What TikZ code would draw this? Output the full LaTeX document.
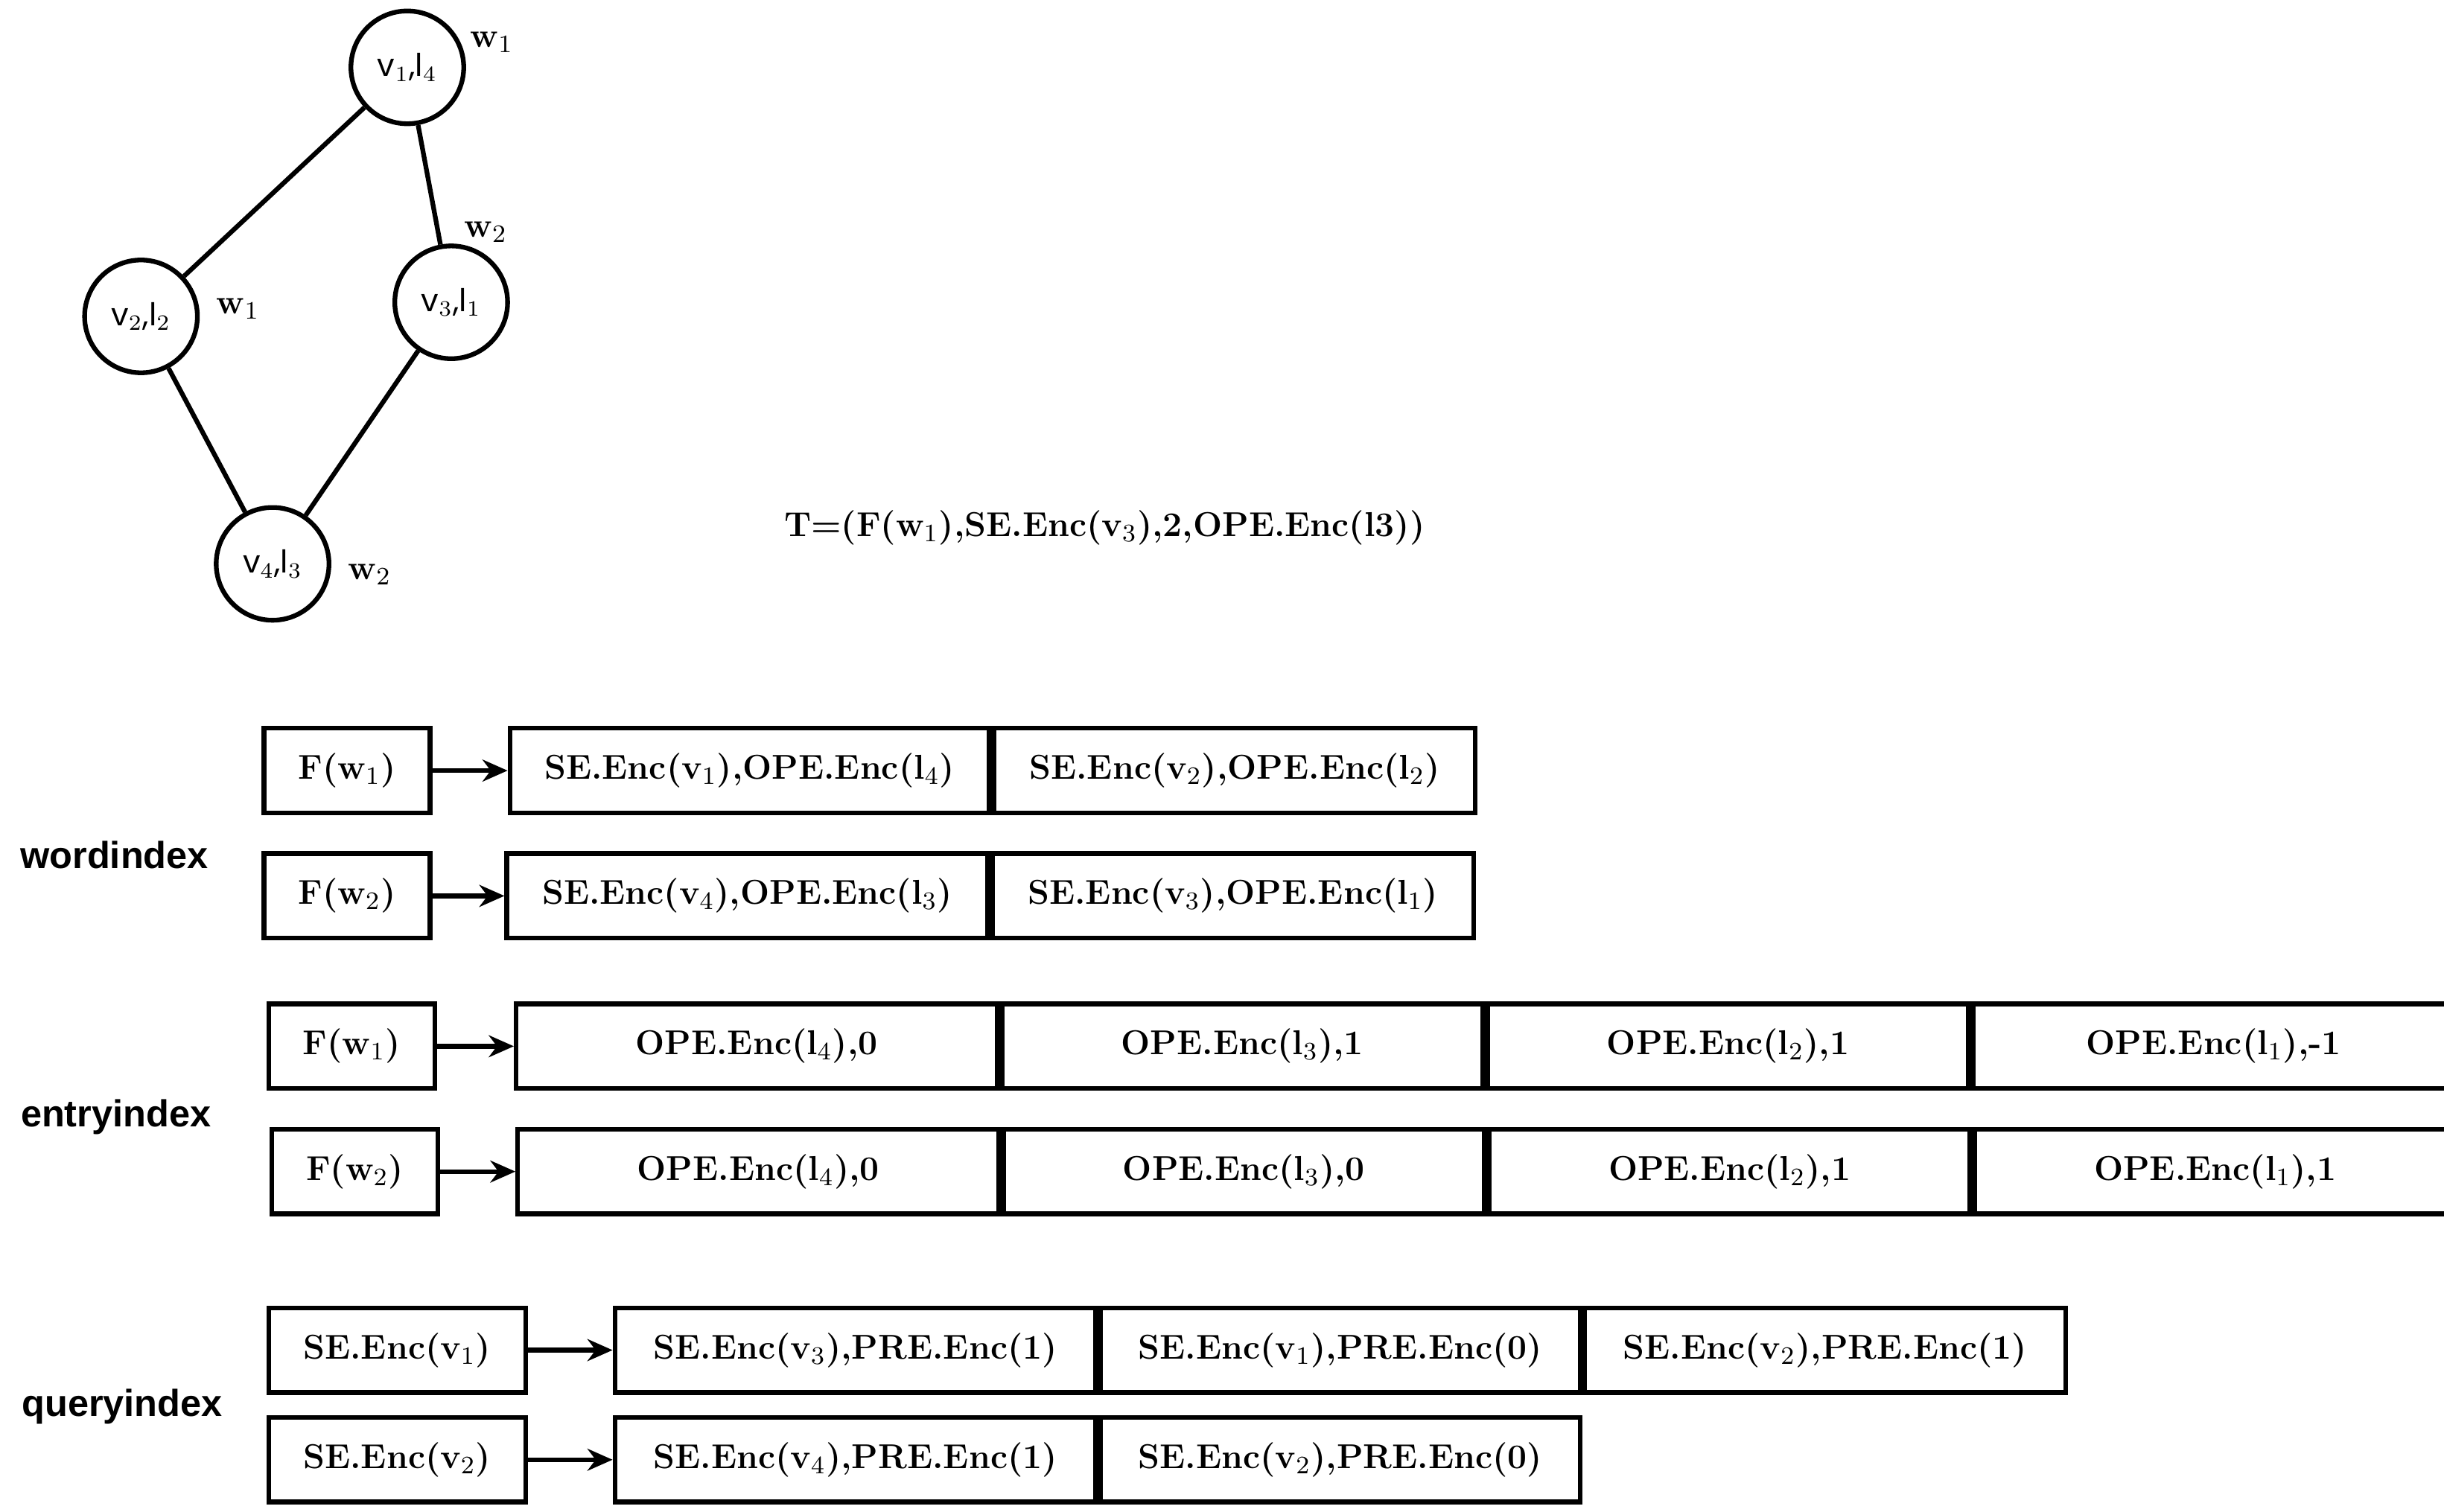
\documentclass[tikz,border=0pt]{standalone}
\usepackage{fontspec}
\newfontfamily\sansf{Poppins}
\newfontfamily\labf{Liberation Sans}
\usetikzlibrary{arrows.meta}
\begin{document}
\begin{tikzpicture}[x=0.5pt,y=-0.5pt,line width=1.5pt,
 vert/.style={circle,draw,minimum size=36pt,inner sep=0pt,font=\sansf\fontsize{10}{12}\selectfont},
 wl/.style={font=\bfseries\fontsize{11}{13}\selectfont},
 cell/.style={draw,anchor=west,minimum height=27pt,inner sep=0pt,font=\bfseries\fontsize{11}{13}\selectfont},
 lab/.style={font=\labf\bfseries\fontsize{12}{14}\selectfont},
 arr/.style={-{Stealth[length=8pt,width=7pt]}}]
\useasboundingbox (0,0) rectangle (1560,965);
% graph
\node[vert] (v1) at (260,43) {v$_1$,l$_4$};
\node[vert] (v2) at (90,202) {v$_2$,l$_2$};
\node[vert] (v3) at (288,193) {v$_3$,l$_1$};
\node[vert] (v4) at (174,360) {v$_4$,l$_3$};
\draw (v1)--(v2) (v1)--(v3) (v2)--(v4) (v3)--(v4);
\node[wl] (a1) at (314,27) {w$_1$};
\node[wl] (a2) at (310,148) {w$_2$};
\node[wl] (a3) at (152,197) {w$_1$};
\node[wl] (a4) at (236,367) {w$_2$};
\node[wl] (T) at (705,337) {T=(F(w$_1$),SE.Enc(v$_3$),2,OPE.Enc(l3))};
% word index
\node[lab] (L1) at (73,546) {wordindex};
\node[cell,minimum width=53pt] (f1) at (167,492) {F(w$_1$)};
\node[cell,minimum width=153pt] (c11) at (324,492) {SE.Enc(v$_1$),OPE.Enc(l$_4$)};
\node[cell,minimum width=153.5pt] (c12) at (c11.east) {SE.Enc(v$_2$),OPE.Enc(l$_2$)};
\draw[arr] (f1)--(c11);
\node[cell,minimum width=53pt] (f2) at (167,572) {F(w$_2$)};
\node[cell,minimum width=153.5pt] (c21) at (322,572) {SE.Enc(v$_4$),OPE.Enc(l$_3$)};
\node[cell,minimum width=153.5pt] (c22) at (c21.east) {SE.Enc(v$_3$),OPE.Enc(l$_1$)};
\draw[arr] (f2)--(c21);
% entry index
\node[lab] (L2) at (74,713) {entryindex};
\node[cell,minimum width=53pt] (e1) at (170,668) {F(w$_1$)};
\node[cell,minimum width=153.5pt] (d11) at (328,668) {OPE.Enc(l$_4$),0};
\node[cell,minimum width=153.5pt] (d12) at (d11.east) {OPE.Enc(l$_3$),1};
\node[cell,minimum width=153.5pt] (d13) at (d12.east) {OPE.Enc(l$_2$),1};
\node[cell,minimum width=153.5pt] (d14) at (d13.east) {OPE.Enc(l$_1$),-1};
\draw[arr] (e1)--(d11);
\node[cell,minimum width=53pt] (e2) at (172,748) {F(w$_2$)};
\node[cell,minimum width=153.5pt] (d21) at (329,748) {OPE.Enc(l$_4$),0};
\node[cell,minimum width=153.5pt] (d22) at (d21.east) {OPE.Enc(l$_3$),0};
\node[cell,minimum width=153.5pt] (d23) at (d22.east) {OPE.Enc(l$_2$),1};
\node[cell,minimum width=153.5pt] (d24) at (d23.east) {OPE.Enc(l$_1$),1};
\draw[arr] (e2)--(d21);
% query index
\node[lab] (L3) at (78,898) {queryindex};
\node[cell,minimum width=82pt] (q1) at (170,862) {SE.Enc(v$_1$)};
\node[cell,minimum width=153.5pt] (p11) at (391,862) {SE.Enc(v$_3$),PRE.Enc(1)};
\node[cell,minimum width=153pt] (p12) at (p11.east) {SE.Enc(v$_1$),PRE.Enc(0)};
\node[cell,minimum width=153.5pt] (p13) at (p12.east) {SE.Enc(v$_2$),PRE.Enc(1)};
\draw[arr] (q1)--(p11);
\node[cell,minimum width=82pt] (q2) at (170,932) {SE.Enc(v$_2$)};
\node[cell,minimum width=153.5pt] (p21) at (391,932) {SE.Enc(v$_4$),PRE.Enc(1)};
\node[cell,minimum width=153pt] (p22) at (p21.east) {SE.Enc(v$_2$),PRE.Enc(0)};
\draw[arr] (q2)--(p21);
\end{tikzpicture}
\end{document}
